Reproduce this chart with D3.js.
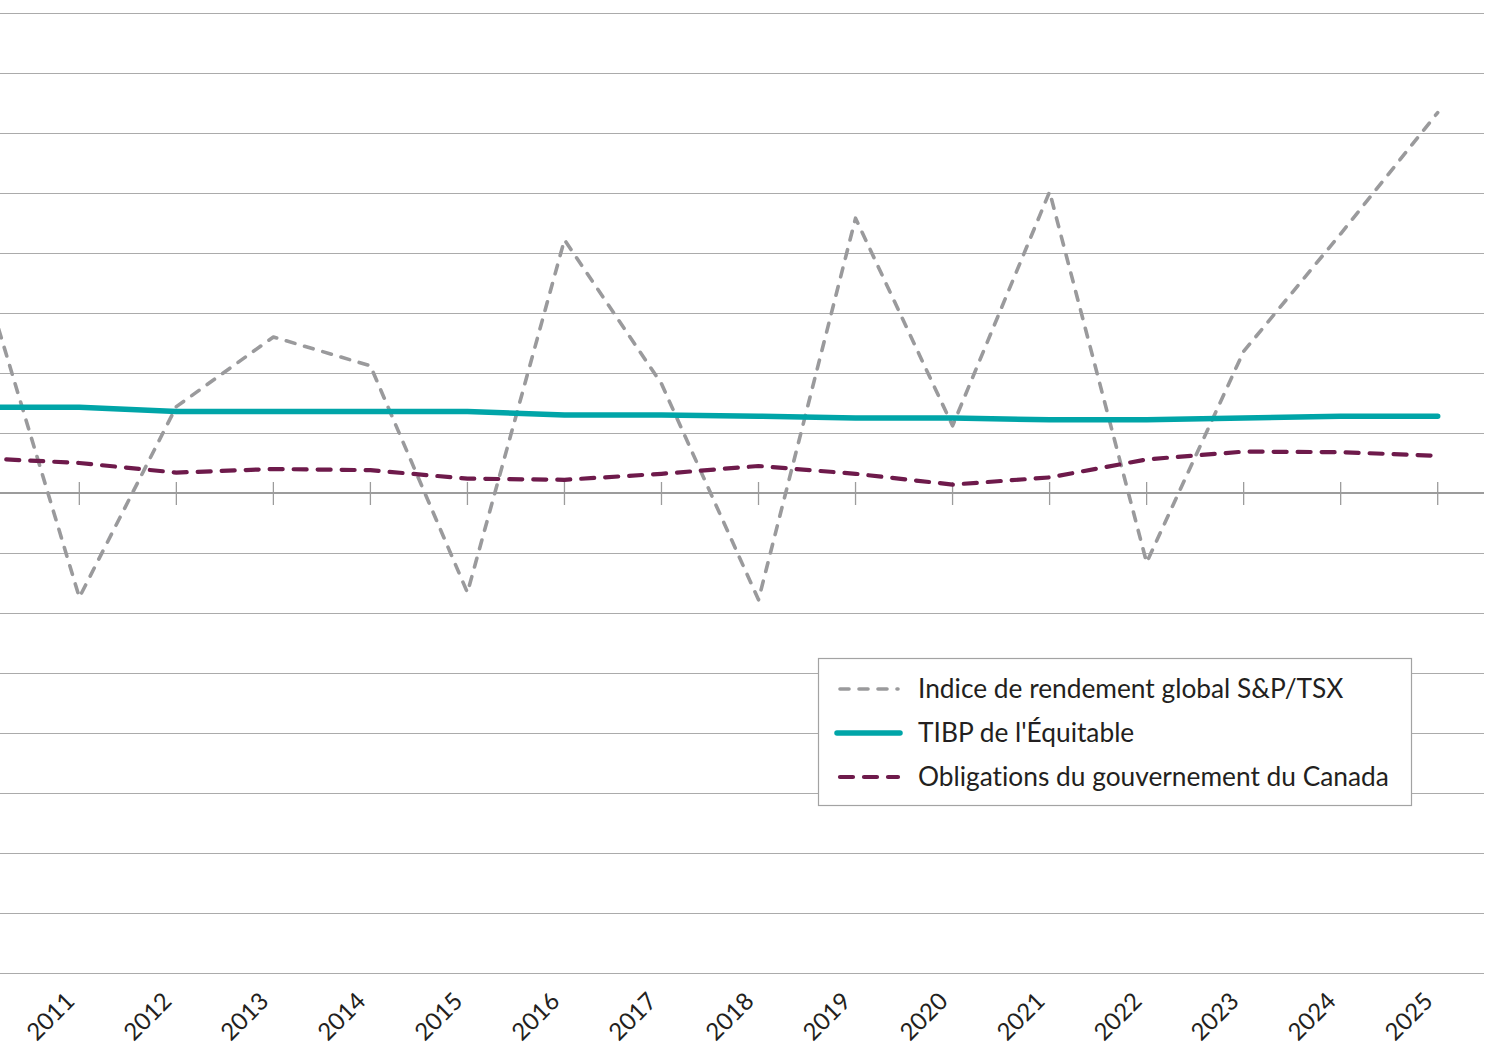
<!DOCTYPE html>
<html>
<head>
<meta charset="utf-8">
<script src="https://cdn.jsdelivr.net/npm/d3@7"></script>
<style>
  html, body { margin: 0; padding: 0; background: #fff; }
  svg { display: block; font-family: Lato, "Open Sans", sans-serif; font-variant-ligatures: none; }
</style>
</head>
<body>
<svg id="chart" width="1489" height="1046"></svg>
<script>
// Annual returns (%) 2010–2025
const years = [2010, 2011, 2012, 2013, 2014, 2015, 2016, 2017, 2018, 2019, 2020, 2021, 2022, 2023, 2024, 2025];
const tsx   = [18.2, -8.7, 7.2, 13.0, 10.6, -8.3, 21.1, 9.1, -8.9, 22.9, 5.6, 25.1, -5.8, 11.8, 21.6, 31.7];
const tibp  = [7.15, 7.15, 6.8, 6.8, 6.8, 6.8, 6.5, 6.5, 6.4, 6.25, 6.25, 6.1, 6.1, 6.25, 6.4, 6.4];
const bonds = [2.9, 2.5, 1.7, 2.0, 1.9, 1.2, 1.1, 1.6, 2.25, 1.6, 0.7, 1.3, 2.8, 3.45, 3.4, 3.1];
const tickYears = years.slice(1);
const gridValues = d3.range(-40, 41, 5);
const seriesNames = [
  "Indice de rendement global S&P/TSX",
  "TIBP de l'Équitable",
  "Obligations du gouvernement du Canada"
];

const svg = d3.select("#chart");

const x = d3.scalePoint().domain(years).range([-17.7, 1437.7]);
const y = d3.scaleLinear().domain([-40, 40]).range([973, 13]);

// horizontal gridlines
svg.append("g")
  .selectAll("line")
  .data(gridValues.filter(v => v !== 0))
  .join("line")
  .attr("x1", 0).attr("x2", 1484)
  .attr("y1", d => y(d) + 0.5).attr("y2", d => y(d) + 0.5)
  .attr("stroke", "#ababab")
  .attr("stroke-width", 1.2);

// zero axis with crossing tick marks
const axisG = svg.append("g").attr("transform", `translate(0,${y(0)})`);
axisG.append("line")
  .attr("x1", 0).attr("x2", 1484)
  .attr("stroke", "#9c9c9c").attr("stroke-width", 2);
axisG.selectAll("line.tick")
  .data(tickYears)
  .join("line")
  .attr("class", "tick")
  .attr("x1", d => x(d)).attr("x2", d => x(d))
  .attr("y1", -11).attr("y2", 12)
  .attr("stroke", "#9c9c9c").attr("stroke-width", 1.3);

// rotated year labels along the bottom
svg.append("g")
  .selectAll("text")
  .data(tickYears)
  .join("text")
  .attr("transform", d => `translate(${x(d) - 16},${990}) rotate(-45)`)
  .attr("text-anchor", "end")
  .attr("dy", "0.75em")
  .attr("font-size", 24)
  .attr("fill", "#231f20")
  .text(d => d);

const line = vals => d3.line()
  .x((d, i) => x(years[i]))
  .y(d => y(d))(vals);

const styles = [
  { color: "#9a9a9c", width: 3.6, dash: "9,10" },
  { color: "#00a5a8", width: 5.5, dash: null },
  { color: "#6e1a4b", width: 4.2, dash: "13,11" }
];

[tsx, tibp, bonds].forEach((vals, i) => {
  const s = styles[i];
  svg.append("path")
    .attr("d", line(vals))
    .attr("fill", "none")
    .attr("stroke", s.color)
    .attr("stroke-width", s.width)
    .attr("stroke-linecap", "round")
    .attr("stroke-linejoin", "round")
    .attr("stroke-dasharray", s.dash);
});

// legend
const lg = svg.append("g").attr("transform", "translate(818,658)");
lg.append("rect")
  .attr("x", 0.5).attr("y", 0.5)
  .attr("width", 593).attr("height", 147)
  .attr("fill", "#fff")
  .attr("stroke", "#a3a3a3").attr("stroke-width", 1.2);
seriesNames.forEach((name, i) => {
  const s = styles[i];
  const cy = 31 + i * 44;
  lg.append("line")
    .attr("x1", i === 1 ? 19 : 22).attr("x2", i === 1 ? 82 : 80)
    .attr("y1", cy).attr("y2", cy)
    .attr("stroke", s.color)
    .attr("stroke-width", s.width)
    .attr("stroke-linecap", "round")
    .attr("stroke-dasharray", s.dash);
  lg.append("text")
    .attr("x", 100).attr("y", cy)
    .attr("dy", "0.36em")
    .attr("font-size", 26.3)
    .attr("fill", "#231f20")
    .text(name);
});
</script>
</body>
</html>
